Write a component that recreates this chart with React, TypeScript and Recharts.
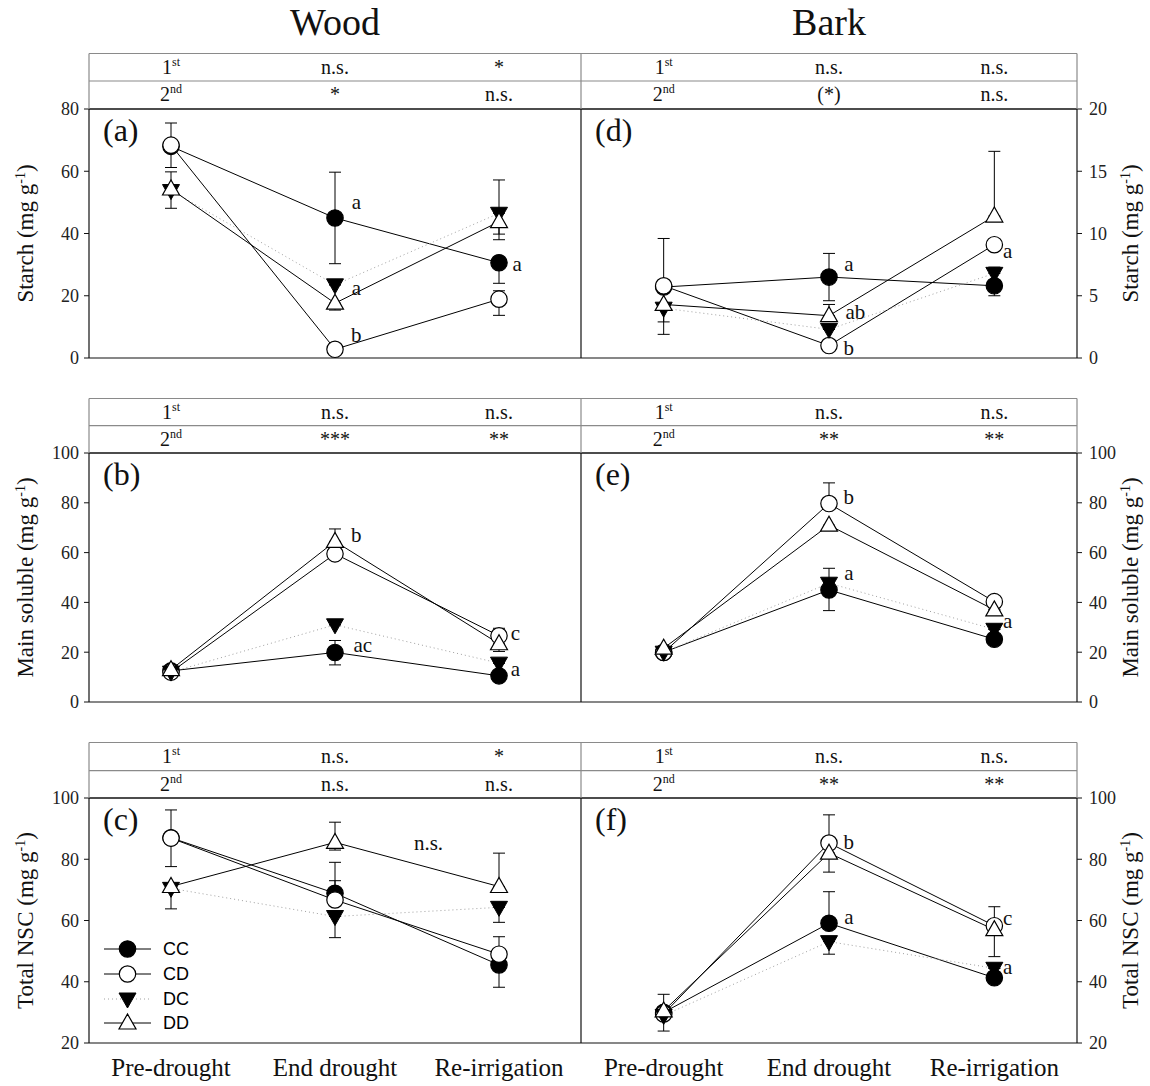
import React from 'react';
import {
  ComposedChart,
  Line,
  XAxis,
  YAxis,
  ErrorBar,
  ReferenceLine,
  ReferenceDot,
} from 'recharts';

const categories = ['Pre-drought', 'End drought', 'Re-irrigation'];
const groups = ['CC', 'CD', 'DC', 'DD'];

// Means per treatment (mg g-1) and error bars as [below, above]
const woodStarch = { CC: [68, 45, 30.6], CD: [68.4, 2.8, 18.9], DC: [53.8, 23.5, 46.5], DD: [54.3, 17.6, 43.8] };
const woodStarchErr = {
  CC: [[0, 0], [14.7, 14.7], [6.6, 0]],
  CD: [[7.2, 7.1], [0, 0], [5.2, 2.7]],
  DC: [[5.7, 0], [0, 0], [6.7, 0]],
  DD: [[0, 5.5], [2.2, 0], [5.8, 13.4]],
};
const barkStarch = { CC: [5.7, 6.5, 5.8], CD: [5.8, 1.0, 9.1], DC: [4.0, 2.3, 6.8], DD: [4.3, 3.4, 11.4] };
const barkStarchErr = {
  CC: [[0, 0], [1.9, 1.9], [0.8, 0]],
  CD: [[0, 3.8], [0, 0], [0, 0]],
  DC: [[2.1, 0], [0, 0], [0, 0.5]],
  DD: [[1.4, 1.3], [0, 0.9], [0, 5.2]],
};
const woodSoluble = { CC: [12.5, 19.9, 10.5], CD: [12, 59.5, 26.6], DC: [12, 31, 15.6], DD: [13, 64.5, 23.4] };
const woodSolubleErr = {
  CC: [[0, 0], [5, 4.8], [0, 0]],
  CD: [[0, 0], [0, 2.5], [0, 3]],
  DC: [[0, 0], [0, 0], [0, 0]],
  DD: [[0, 0], [0, 5], [3.1, 0]],
};
const barkSoluble = { CC: [20, 45, 25.2], CD: [19.9, 79.7, 40.3], DC: [20, 47.7, 29.2], DD: [21.6, 71, 37] };
const barkSolubleErr = {
  CC: [[0, 0], [8.3, 0], [0, 0]],
  CD: [[0, 0], [0, 8.3], [0, 0]],
  DC: [[0, 0], [0, 6], [0, 0]],
  DD: [[0, 0], [1.5, 0], [0, 0]],
};
const woodNsc = { CC: [87, 68.9, 45.5], CD: [86.9, 66.7, 49], DC: [70.5, 61.3, 64.3], DD: [71.1, 85.5, 71.1] };
const woodNscErr = {
  CC: [[0, 0], [0, 4.1], [7.3, 0]],
  CD: [[9.3, 9.2], [0, 12.3], [0, 5.7]],
  DC: [[6.7, 0], [6.9, 0], [4.9, 0]],
  DD: [[0, 0], [2.5, 6.6], [0, 10.9]],
};
const barkNsc = { CC: [30, 59.1, 41.3], CD: [29.5, 85.3, 58.3], DC: [29, 53.1, 44.4], DD: [30.5, 82, 57] };
const barkNscErr = {
  CC: [[0, 0], [0, 10.3], [0, 0]],
  CD: [[0, 0], [0, 9.2], [0, 6.2]],
  DC: [[0, 0], [4.1, 0], [0, 0]],
  DD: [[6.6, 5.4], [6.2, 0], [8.8, 0]],
};

// significance of the 1st / 2nd drought effect at End drought and Re-irrigation
const woodStarchTests = { first: ['n.s.', '*'], second: ['*', 'n.s.'] };
const barkStarchTests = { first: ['n.s.', 'n.s.'], second: ['(*)', 'n.s.'] };
const woodSolubleTests = { first: ['n.s.', 'n.s.'], second: ['***', '**'] };
const barkSolubleTests = { first: ['n.s.', 'n.s.'], second: ['**', '**'] };
const woodNscTests = { first: ['n.s.', '*'], second: ['n.s.', 'n.s.'] };
const barkNscTests = { first: ['n.s.', 'n.s.'], second: ['**', '**'] };

// letters of post-hoc groups, placed at (date index, value)
const woodStarchLetters = [
  { x: 1.13, y: 50.2, t: 'a' },
  { x: 1.13, y: 22.5, t: 'a' },
  { x: 1.13, y: 7.4, t: 'b' },
  { x: 2.11, y: 30.2, t: 'a' },
];
const barkStarchLetters = [
  { x: 1.12, y: 7.6, t: 'a' },
  { x: 1.16, y: 3.7, t: 'ab' },
  { x: 1.12, y: 0.8, t: 'b' },
  { x: 2.08, y: 8.6, t: 'a' },
];
const woodSolubleLetters = [
  { x: 1.13, y: 67.1, t: 'b' },
  { x: 1.17, y: 22.9, t: 'ac' },
  { x: 2.1, y: 27.8, t: 'c' },
  { x: 2.1, y: 13.3, t: 'a' },
];
const barkSolubleLetters = [
  { x: 1.12, y: 82.4, t: 'b' },
  { x: 1.12, y: 51.9, t: 'a' },
  { x: 2.08, y: 32.9, t: 'a' },
];
const woodNscLetters = [{ x: 1.57, y: 85.6, t: 'n.s.' }];
const barkNscLetters = [
  { x: 1.12, y: 85.7, t: 'b' },
  { x: 1.12, y: 61.2, t: 'a' },
  { x: 2.08, y: 60.9, t: 'c' },
  { x: 2.08, y: 44.9, t: 'a' },
];

const SERIF = "'Liberation Serif', 'Times New Roman', serif";
const SANS = "'Liberation Sans', Arial, sans-serif";

const LEFT_X0 = 89;
const MID_X = 581;
const RIGHT_X1 = 1077;

const rowsGeom = [
  { headTop: 53.5, headMid: 81, plotTop: 109, plotH: 249 },
  { headTop: 398.5, headMid: 425.7, plotTop: 453, plotH: 249 },
  { headTop: 742.5, headMid: 770.7, plotTop: 798, plotH: 245 },
];

const marker = (g: string) => (p: any) => {
  const { cx, cy, index } = p;
  const k = `${g}-${index}`;
  if (cx == null || cy == null) return <g key={k} />;
  if (g === 'CC' || g === 'CD') {
    return (
      <circle key={k} cx={cx} cy={cy} r={8.2} fill={g === 'CC' ? '#000' : '#fff'} stroke="#000" strokeWidth={1.2} />
    );
  }
  if (g === 'DC') {
    return (
      <polygon key={k} points={`${cx - 8.5},${cy - 6} ${cx + 8.5},${cy - 6} ${cx},${cy + 9}`} fill="#000" stroke="#000" strokeWidth={1} />
    );
  }
  return (
    <polygon key={k} points={`${cx - 8.5},${cy + 6} ${cx + 8.5},${cy + 6} ${cx},${cy - 9}`} fill="#fff" stroke="#000" strokeWidth={1.2} />
  );
};

const lineStyle = (g: string) =>
  g === 'DC' ? { stroke: '#a0a0a0', strokeDasharray: '1 3', strokeWidth: 1 } : { stroke: '#000', strokeWidth: 1 };

const LegendBox = () => (
  <div>
    {groups.map((g) => (
      <div key={g} style={{ display: 'flex', alignItems: 'center', height: 24.7 }}>
        <svg width={52} height={24}>
          <line x1={2} x2={49} y1={12} y2={12} {...lineStyle(g)} />
          {marker(g)({ cx: 25.5, cy: 12, index: 0 })}
        </svg>
        <span style={{ fontFamily: SANS, fontSize: 18, marginLeft: 9, color: '#000', lineHeight: '24px' }}>{g}</span>
      </div>
    ))}
  </div>
);

interface PanelProps {
  mean: Record<string, number[]>;
  err: Record<string, number[][]>;
  domain: [number, number];
  ticks: number[];
  side: 'left' | 'right';
  row: number;
  showX?: boolean;
  letters: { x: number; y: number; t: string }[];
  legend?: boolean;
}

const Panel = ({ mean, err, domain, ticks, side, row, showX, letters, legend }: PanelProps) => {
  const isLeft = side === 'left';
  const geom = rowsGeom[row];
  const data = categories.map((c, i) => {
    const r: any = { x: i, name: c };
    groups.forEach((g) => {
      r[g] = mean[g][i];
      r[g + 'Err'] = err[g][i];
    });
    return r;
  });
  const xH = showX ? 44 : 1;
  const bottom = showX ? 2 : 14;
  const height = 10 + geom.plotH + xH + bottom;
  const width = isLeft ? 600 : 588;
  const left = isLeft ? 0 : 561;

  return (
    <div style={{ position: 'absolute', left, top: geom.plotTop - 10, width, height }}>
      <ComposedChart
        width={width}
        height={height}
        data={data}
        margin={{ top: 10, right: isLeft ? 19 : 0, left: isLeft ? 0 : 20, bottom }}
      >
        <XAxis
          type="number"
          dataKey="x"
          domain={[-0.5, 2.5]}
          ticks={[0, 1, 2]}
          interval={0}
          tickFormatter={(v: number) => categories[v]}
          height={xH}
          tick={showX ? { fontSize: 25, fontFamily: SERIF, fill: '#111' } : false}
          tickLine={false}
          tickSize={0}
          tickMargin={15}
          axisLine={{ stroke: '#111', strokeWidth: 1.2 }}
        />
        <YAxis
          type="number"
          orientation={side}
          width={isLeft ? 89 : 72}
          domain={domain}
          ticks={ticks}
          interval={0}
          tickSize={5}
          tickMargin={isLeft ? 5 : 7}
          tick={{ fontSize: 18, fontFamily: SERIF, fill: '#222' }}
          tickLine={{ stroke: '#111' }}
          axisLine={{ stroke: '#111', strokeWidth: 1.2 }}
        />
        <ReferenceLine y={domain[1]} stroke="#111" strokeWidth={1.3} />
        {isLeft && <ReferenceLine x={2.5} stroke="#111" strokeWidth={1.2} />}
        {groups.map((g) => (
          <Line
            key={g}
            type="linear"
            dataKey={g}
            name={g}
            {...lineStyle(g)}
            dot={marker(g)}
            activeDot={false}
            isAnimationActive={false}
          >
            <ErrorBar dataKey={g + 'Err'} direction="y" width={6} stroke="#000" strokeWidth={1} />
          </Line>
        ))}
        {letters.map((l, i) => (
          <ReferenceDot
            key={i}
            x={l.x}
            y={l.y}
            r={0}
            fill="none"
            stroke="none"
            label={{ value: l.t, position: 'center', fontSize: 21, fontFamily: SERIF, fill: '#111' }}
          />
        ))}
      </ComposedChart>
      {legend && (
        <div style={{ position: 'absolute', left: 102, top: 149 }}>
          <LegendBox />
        </div>
      )}
    </div>
  );
};

const headerCells = [
  [woodStarchTests, barkStarchTests],
  [woodSolubleTests, barkSolubleTests],
  [woodNscTests, barkNscTests],
];
const yTitles = ['Starch', 'Main soluble', 'Total NSC'];
const tags = [['(a)', '(d)'], ['(b)', '(e)'], ['(c)', '(f)']];

const colX = (side: number, i: number) => {
  const x0 = side === 0 ? LEFT_X0 : MID_X;
  const x1 = side === 0 ? MID_X : RIGHT_X1;
  return x0 + ((x1 - x0) / 3) * (i + 0.5);
};

const YTitle = ({ x, cy, text }: { x: number; cy: number; text: string }) => (
  <text
    x={x}
    y={cy}
    transform={`rotate(-90 ${x} ${cy})`}
    textAnchor="middle"
    fontFamily={SERIF}
    fontSize={23}
    fill="#111"
  >
    {text} (mg g
    <tspan dy={-8} fontSize={14}>-1</tspan>
    <tspan dy={8}>)</tspan>
  </text>
);

const Overlay = () => (
  <svg
    width={1150}
    height={1086}
    style={{ position: 'absolute', left: 0, top: 0, pointerEvents: 'none' }}
  >
    <text x={335} y={35} textAnchor="middle" fontFamily={SERIF} fontSize={38} fill="#111">Wood</text>
    <text x={829} y={35} textAnchor="middle" fontFamily={SERIF} fontSize={38} fill="#111">Bark</text>
    {rowsGeom.map((g, r) => (
      <g key={r}>
        <line x1={LEFT_X0} x2={RIGHT_X1} y1={g.headTop} y2={g.headTop} stroke="#8a8a8a" strokeWidth={1.2} />
        <line x1={LEFT_X0} x2={RIGHT_X1} y1={g.headMid} y2={g.headMid} stroke="#8a8a8a" strokeWidth={1.2} />
        {[LEFT_X0, MID_X, RIGHT_X1].map((x) => (
          <line key={x} x1={x} x2={x} y1={g.headTop} y2={g.plotTop} stroke="#8a8a8a" strokeWidth={1.2} />
        ))}
        {[0, 1].map((s) => (
          <g key={s} fontFamily={SERIF} fontSize={20} fill="#111" textAnchor="middle">
            <text x={colX(s, 0)} y={g.headTop + 20.5}>
              1<tspan dy={-8} fontSize={12}>st</tspan>
            </text>
            <text x={colX(s, 0)} y={g.headMid + 20}>
              2<tspan dy={-8} fontSize={12}>nd</tspan>
            </text>
            {headerCells[r][s].first.map((t, i) => (
              <text key={'f' + i} x={colX(s, i + 1)} y={g.headTop + 20.5}>{t}</text>
            ))}
            {headerCells[r][s].second.map((t, i) => (
              <text key={'s' + i} x={colX(s, i + 1)} y={g.headMid + 20}>{t}</text>
            ))}
            <text x={(s === 0 ? LEFT_X0 : MID_X) + 14} y={g.plotTop + 32} textAnchor="start" fontSize={32}>
              {tags[r][s]}
            </text>
          </g>
        ))}
        <YTitle x={33} cy={g.plotTop + g.plotH / 2} text={yTitles[r]} />
        <YTitle x={1138} cy={g.plotTop + g.plotH / 2} text={yTitles[r]} />
      </g>
    ))}
  </svg>
);

export default function App() {
  return (
    <div style={{ position: 'absolute', left: 0, top: 0, width: 1150, height: 1086, background: '#fff', overflow: 'hidden' }}>
      <Panel mean={woodStarch} err={woodStarchErr} domain={[0, 80]} ticks={[0, 20, 40, 60, 80]} side="left" row={0} letters={woodStarchLetters} />
      <Panel mean={barkStarch} err={barkStarchErr} domain={[0, 20]} ticks={[0, 5, 10, 15, 20]} side="right" row={0} letters={barkStarchLetters} />
      <Panel mean={woodSoluble} err={woodSolubleErr} domain={[0, 100]} ticks={[0, 20, 40, 60, 80, 100]} side="left" row={1} letters={woodSolubleLetters} />
      <Panel mean={barkSoluble} err={barkSolubleErr} domain={[0, 100]} ticks={[0, 20, 40, 60, 80, 100]} side="right" row={1} letters={barkSolubleLetters} />
      <Panel mean={woodNsc} err={woodNscErr} domain={[20, 100]} ticks={[20, 40, 60, 80, 100]} side="left" row={2} showX letters={woodNscLetters} legend />
      <Panel mean={barkNsc} err={barkNscErr} domain={[20, 100]} ticks={[20, 40, 60, 80, 100]} side="right" row={2} showX letters={barkNscLetters} />
      <Overlay />
    </div>
  );
}
